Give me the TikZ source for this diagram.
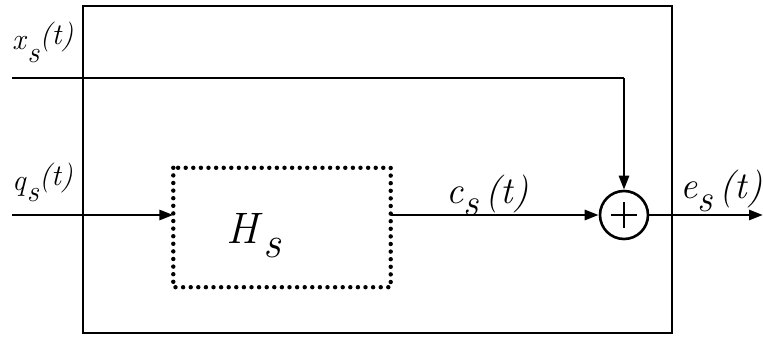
\documentclass[tikz,border=0pt]{standalone}
\usetikzlibrary{arrows.meta,calc}
\tikzset{
  wire/.style={line width=2.8pt},
  tip/.style={-{Triangle[length=14pt,width=10pt]}},
  dotbox/.style={line width=4.4pt,line cap=round,dash pattern=on 0pt off 7.6pt},
  lbl/.style={inner sep=0pt,anchor=base west},
}
\begin{document}
\begin{tikzpicture}[x=1pt,y=-1pt]
\useasboundingbox (0,0) rectangle (763,342);
% outer box
\node[draw,line width=2.4pt,minimum width=589pt,minimum height=327pt,inner sep=0pt] (outer) at (377.5,169.5) {};
% dotted block
\node[minimum width=217pt,minimum height=119pt,inner sep=0pt] (H) at (282,227.5) {};
\draw[dotbox] (H.north west) rectangle (H.south east);
\node[inner sep=0pt] at (254,236) {\fontsize{44}{44}\selectfont\textit{H}\raisebox{-14pt}{\textit{s}}};
% summing junction
\node[draw,circle,line width=2.6pt,minimum size=48pt,inner sep=0pt] (sum) at (624,215) {};
\draw[line width=2.6pt] ($(sum.center)+(-13,0)$) -- ++(26,0);
\draw[line width=2.6pt] ($(sum.center)+(0,-13)$) -- ++(0,26);
% coordinates
\coordinate (xin) at (12,78);
\coordinate (xcorner) at (624,78);
\coordinate (qin) at (12,215);
\coordinate (eout) at (763,215);
% wires
\draw[wire] (xin) -- (xcorner);
\draw[wire,tip] (xcorner) -- (sum.north);
\draw[wire,tip] (qin) -- (qin -| H.west);
\draw[wire,tip] (H.east |- sum) -- (sum.west);
\draw[wire,tip] (sum.east) -- (eout);
% labels
\node[lbl] at (12,50) {\fontsize{30}{30}\selectfont\textit{x}\raisebox{-13pt}{\textit{s}}\raisebox{5pt}{\textit{(t)}}};
\node[lbl] at (12,190) {\fontsize{30}{30}\selectfont\textit{q}\raisebox{-11pt}{\textit{s}}\raisebox{5pt}{\textit{(t)}}};
\node[lbl] at (446,203) {\fontsize{38}{38}\selectfont\textit{c}\raisebox{-13pt}{\textit{s}}\,\textit{(t)}};
\node[lbl] at (680,198) {\fontsize{38}{38}\selectfont\textit{e}\raisebox{-13pt}{\textit{s}}\,\textit{(t)}};
\end{tikzpicture}
\end{document}
